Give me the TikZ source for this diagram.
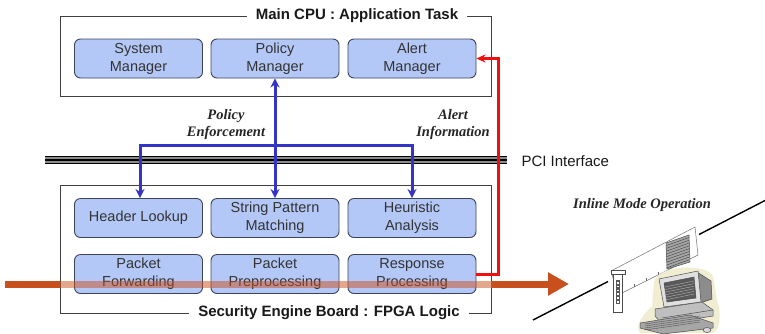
\documentclass[tikz,border=0pt]{standalone}
\usepackage{fontspec}
\setmainfont{Liberation Sans}
\newfontfamily\labelserif{Liberation Serif}
\usetikzlibrary{arrows.meta,calc}

\definecolor{modfill}{HTML}{B4C8F8}
\definecolor{modedge}{HTML}{3E4458}
\definecolor{panedge}{HTML}{404040}
\definecolor{busblue}{HTML}{3434C8}
\definecolor{alertred}{HTML}{F01010}
\definecolor{flow}{HTML}{C8501E}
\definecolor{glow}{HTML}{F0EDD2}

\tikzset{
  module/.style={draw=modedge, fill=modfill, rounded corners=6pt, line width=0.9pt,
    minimum width=128pt, minimum height=39pt, align=center, inner sep=0pt,
    font=\fontsize{14.5}{18}\selectfont, text=black!80},
  panel/.style={draw=panedge, fill=white, line width=0.9pt, inner sep=0pt},
  paneltitle/.style={fill=white, inner xsep=9pt, inner ysep=2pt,
    font=\fontsize{15}{18}\selectfont\bfseries, text=black!90},
  note/.style={align=center, font=\fontsize{14.5}{17}\labelserif\bfseries\itshape, text=black!85},
  busline/.style={draw=busblue, line width=3pt},
  bustip/.style={-{Stealth[length=9pt,width=9pt]}},
  alertline/.style={draw=alertred, line width=3pt},
  flowline/.style={draw=flow, line width=7pt},
  hw/.style={draw=black!70, line width=0.5pt},
}

\begin{document}
\begin{tikzpicture}[x=1pt,y=-1pt]
\useasboundingbox (0,0) rectangle (765,333);

% ---- host side ----
\node[panel, minimum width=431pt, minimum height=80pt] (cpu) at (275.5,56) {};
\node[paneltitle] (cputitle) at (357,16) {Main CPU : Application Task};
\node[module] (sm) at (138.5,58.5) {System\\Manager};
\node[module] (pm) at (275,58.5) {Policy\\Manager};
\node[module] (am) at (412,58.5) {Alert\\Manager};

% ---- PCI bus ----
\coordinate (pciL) at (45,160);
\coordinate (pciR) at (507,160);
\fill[black!45] ([yshift=-4pt]pciL) rectangle ([yshift=4pt]pciR);
\foreach \dy in {-3.4,0,3.4}
  \draw[black, line width=1.4pt] ([yshift=\dy pt]pciL) -- ([yshift=\dy pt]pciR);
\node[font=\fontsize{15}{18}\selectfont, text=black!90, anchor=west] (pci) at (518,161) {PCI Interface};

% ---- engine board ----
\node[panel, minimum width=431pt, minimum height=128pt] (fpga) at (275.5,249) {};
\node[module] (hl) at (138.5,218) {Header Lookup};
\node[module] (sp) at (275,218) {String Pattern\\Matching};
\node[module] (ha) at (412,218) {Heuristic\\Analysis};
\node[module] (pf) at (138.5,274) {Packet\\Forwarding};
\node[module] (pp) at (275,274) {Packet\\Preprocessing};
\node[module] (rp) at (412,274) {Response\\Processing};
\node[paneltitle] (fpgatitle) at (329,313) {Security Engine Board : FPGA Logic};

% ---- policy enforcement bus ----
\coordinate (bus) at (275,145);
\draw[busline, {Stealth[length=9pt,width=9pt]}-{Stealth[length=9pt,width=9pt]}] (pm.south) -- (sp.north);
\draw[busline, bustip] (bus) -| ([xshift=1.5pt]hl.north);
\draw[busline, bustip] (bus) -| (ha.north);

% ---- alert path ----
\draw[alertline, -{Stealth[length=9pt,width=8pt]}] (rp.east) -- ++(22,0) |- (am.east);

\node[note] (polnote) at (226,125) {Policy\\Enforcement};
\node[note] (alnote) at (453,125) {Alert\\Information};

% ---- traffic flow ----
\coordinate (flowin) at (5,284);
\coordinate (boxin) at (60,284);
\coordinate (boxout) at (491,284);
\coordinate (flowout) at (569,284);
\draw[flowline] (flowin) -- (boxin);
\draw[flowline, draw opacity=0.5] (boxin) -- (boxout);
\draw[flowline, -{Triangle[length=21pt,width=22pt]}] (boxout) -- (flowout);

% ---- inline deployment sketch ----
\node[note] (inline) at (642,205) {Inline Mode Operation};
\coordinate (wireA) at (533,320);
\coordinate (wireB) at (608,281.5);
\coordinate (wireC) at (699,234.5);
\coordinate (wireD) at (765,200.5);
\draw[black, line width=1.4pt] (wireA) -- (wireB);
\draw[black, line width=1.4pt] (wireC) -- (wireD);

% network card
\draw[hw, draw=black!55, fill=white] (611,271) -- (695,227) -- (698,255) -- (618,295) -- cycle;
\foreach \t in {0.2,0.35,0.5,0.65}
  \draw[black!60, line width=0.6pt] ($(618,295)!\t!(698,255)$) -- ++(0,-3);
\draw[hw, fill=black!35] (666,243) -- (689,235) -- (690,262) -- (667,269) -- cycle;
\foreach \k in {0,...,8}
  \draw[black!70, line width=0.5pt] (666.5,{245.5+2.8*\k}) -- (689,{237.5+2.8*\k});
\draw[hw, fill=white] (611,270) rectangle (625,274);
\draw[hw, fill=white] (613,274) rectangle (622,312);
\fill[black!65] (615.5,280) rectangle (619.5,304);
\foreach \k in {0,...,5}
  \fill[white] (616.5,{282+3.8*\k}) rectangle (618.5,{283.5+3.8*\k});

% desktop computer
\fill[glow] (654,282) .. controls (656,266) and (704,262) .. (713,276)
  -- (717,300) .. controls (722,314) and (720,333) .. (712,333)
  -- (640,333) .. controls (634,325) and (644,314) .. (652,306) -- cycle;
\draw[hw, fill=black!45] (697,272) -- (711,281) -- (712,299) -- (700,303) -- cycle;
\draw[hw, fill=black!12] (659,279) -- (698,271) -- (701,302) -- (664,307) -- cycle;
\draw[hw, fill=black!65] (664,283) -- (694,277) -- (696,298) -- (667,302) -- cycle;
\foreach \k in {0,...,5}
  \draw[white!70!black, line width=0.4pt] (665,{287+2.6*\k}) -- (694,{281+2.6*\k});
\draw[hw, fill=black!25] (655,309) -- (702,302) -- (713,310) -- (713,316) -- (662,324) -- (655,316) -- cycle;
\draw[hw] (662,318) -- (713,310);
\draw[hw, fill=black!35] (640,323) -- (690,315) -- (713,323) -- (713,328) -- (663,334) -- (640,328) -- cycle;
\foreach \k in {0,...,3}
  \draw[black!75, line width=0.3pt] (645,{324+2*\k}) -- (700,{316+2*\k});
\draw[hw, fill=black!15] (707,330) ellipse (4pt and 2.5pt);
\end{tikzpicture}
\end{document}
